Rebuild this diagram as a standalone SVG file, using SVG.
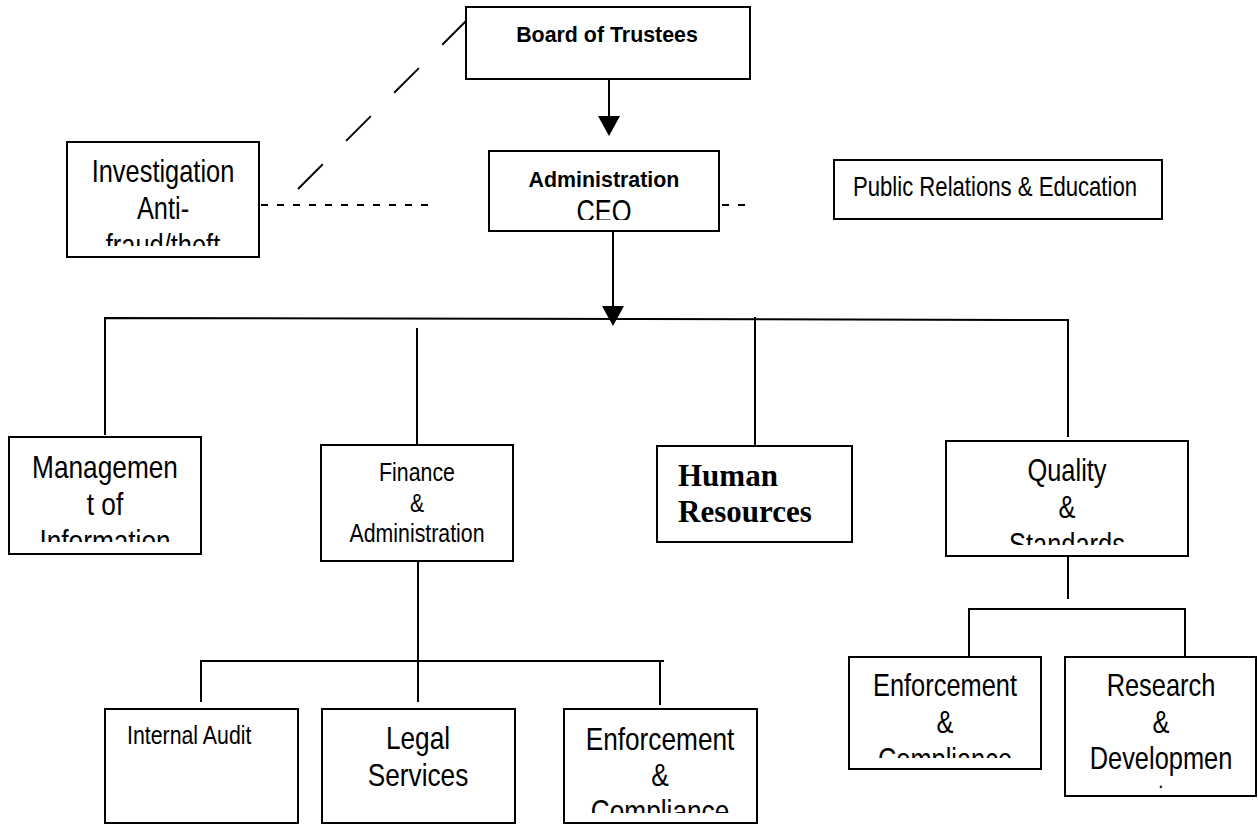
<svg xmlns="http://www.w3.org/2000/svg" width="1258" height="825" viewBox="0 0 1258 825">
<style>
.box{fill:#fff;stroke:#000;stroke-width:2}
.ln{fill:none;stroke:#000;stroke-width:2}
.dash{fill:none;stroke:#000;stroke-width:2;stroke-dasharray:7 9}
.ldash{fill:none;stroke:#000;stroke-width:2;stroke-dasharray:35 33}
.n{font-family:"Liberation Sans",Arial,sans-serif;fill:#000;text-anchor:middle}
.b{font-family:"Liberation Sans",Arial,sans-serif;font-weight:bold;fill:#000;text-anchor:middle}
.t{font-family:"Liberation Serif","Times New Roman",serif;font-weight:bold;fill:#000}
</style>
<defs>
<marker id="arr" viewBox="0 0 20 22" refX="10" refY="11" markerWidth="20" markerHeight="22" markerUnits="userSpaceOnUse" orient="auto">
<path d="M0,0 L20,11 L0,22 z" fill="#000"/>
</marker>
<clipPath id="cInv" clipPathUnits="userSpaceOnUse"><rect x="68" y="143" width="190" height="103"/></clipPath>
<clipPath id="cAdm" clipPathUnits="userSpaceOnUse"><rect x="490" y="152" width="228" height="68"/></clipPath>
<clipPath id="cMan" clipPathUnits="userSpaceOnUse"><rect x="10" y="438" width="190" height="104"/></clipPath>
<clipPath id="cQua" clipPathUnits="userSpaceOnUse"><rect x="947" y="442" width="240" height="103"/></clipPath>
<clipPath id="cEnR" clipPathUnits="userSpaceOnUse"><rect x="850" y="658" width="190" height="100"/></clipPath>
<clipPath id="cRes" clipPathUnits="userSpaceOnUse"><rect x="1066" y="658" width="190" height="130"/></clipPath>
<clipPath id="cEnM" clipPathUnits="userSpaceOnUse"><rect x="565" y="710" width="191" height="103"/></clipPath>
</defs>
<rect width="1258" height="825" fill="#fff"/>

<g id="connectors">
<line class="ln" x1="609" y1="79" x2="609" y2="126" marker-end="url(#arr)"/>
<line class="ln" x1="613" y1="231" x2="613" y2="316" marker-end="url(#arr)"/>
<polyline class="ln" points="105,435 105,318 1068,320 1068,437"/>
<line class="ln" x1="417" y1="328" x2="417" y2="445"/>
<line class="ln" x1="755" y1="317" x2="755" y2="446"/>
<line class="ln" x1="418" y1="561" x2="418" y2="702"/>
<polyline class="ln" points="201,702 201,661 664,661"/>
<line class="ln" x1="660" y1="661" x2="660" y2="705"/>
<line class="ln" x1="1068" y1="556" x2="1068" y2="599"/>
<polyline class="ln" points="969,657 969,609 1185,609 1185,657"/>
<line class="ldash" x1="467" y1="20" x2="298" y2="189"/>
<line class="dash" x1="261" y1="205" x2="430" y2="205"/>
<line class="dash" x1="722" y1="205" x2="746" y2="205"/>
</g>

<g id="board">
<rect class="box" x="466" y="7" width="284" height="72"/>
<text class="b" font-size="23" transform="translate(607,42) scale(0.93,1)">Board of Trustees</text>
</g>

<g id="admin">
<rect class="box" x="489" y="151" width="230" height="80"/>
<g clip-path="url(#cAdm)">
<text class="b" font-size="23" transform="translate(604,187) scale(0.93,1)">Administration</text>
<text class="n" font-size="31" transform="translate(604,222) scale(0.82,1)">CEO</text>
</g>
</g>

<g id="investigation">
<rect class="box" x="67" y="142" width="192" height="115"/>
<g clip-path="url(#cInv)">
<text class="n" font-size="31" transform="translate(163,182) scale(0.82,1)">Investigation</text>
<text class="n" font-size="31" transform="translate(163,219) scale(0.82,1)">Anti-</text>
<text class="n" font-size="31" transform="translate(163,256) scale(0.82,1)">fraud/theft</text>
</g>
</g>

<g id="public-relations">
<rect class="box" x="834" y="160" width="328" height="59"/>
<text class="n" font-size="27" transform="translate(995,196) scale(0.82,1)">Public Relations &amp; Education</text>
</g>

<g id="management">
<rect class="box" x="9" y="437" width="192" height="117"/>
<g clip-path="url(#cMan)">
<text class="n" font-size="32" transform="translate(105,478) scale(0.82,1)">Managemen</text>
<text class="n" font-size="32" transform="translate(105,515) scale(0.82,1)">t of</text>
<text class="n" font-size="32" transform="translate(105,552) scale(0.82,1)">Information</text>
</g>
</g>

<g id="finance">
<rect class="box" x="321" y="445" width="192" height="116"/>
<text class="n" font-size="26" transform="translate(417,481) scale(0.82,1)">Finance</text>
<text class="n" font-size="26" transform="translate(417,512) scale(0.82,1)">&amp;</text>
<text class="n" font-size="26" transform="translate(417,542) scale(0.82,1)">Administration</text>
</g>

<g id="human-resources">
<rect class="box" x="657" y="446" width="195" height="96"/>
<text class="t" font-size="31" x="678" y="486">Human</text>
<text class="t" font-size="31" x="678" y="522">Resources</text>
</g>

<g id="quality">
<rect class="box" x="946" y="441" width="242" height="115"/>
<g clip-path="url(#cQua)">
<text class="n" font-size="31" transform="translate(1067,481) scale(0.82,1)">Quality</text>
<text class="n" font-size="31" transform="translate(1067,518) scale(0.82,1)">&amp;</text>
<text class="n" font-size="31" transform="translate(1067,555) scale(0.82,1)">Standards</text>
</g>
</g>

<g id="internal-audit">
<rect class="box" x="105" y="709" width="193" height="114"/>
<text class="n" font-size="26" style="text-anchor:start" transform="translate(127,744) scale(0.82,1)">Internal Audit</text>
</g>

<g id="legal">
<rect class="box" x="322" y="709" width="193" height="114"/>
<text class="n" font-size="32" transform="translate(418,749) scale(0.82,1)">Legal</text>
<text class="n" font-size="32" transform="translate(418,786) scale(0.82,1)">Services</text>
</g>

<g id="enforcement-finance">
<rect class="box" x="564" y="709" width="193" height="114"/>
<g clip-path="url(#cEnM)">
<text class="n" font-size="32" transform="translate(660,750) scale(0.82,1)">Enforcement</text>
<text class="n" font-size="32" transform="translate(660,786) scale(0.82,1)">&amp;</text>
<text class="n" font-size="32" transform="translate(660,822) scale(0.82,1)">Compliance</text>
</g>
</g>

<g id="enforcement-quality">
<rect class="box" x="849" y="657" width="192" height="112"/>
<g clip-path="url(#cEnR)">
<text class="n" font-size="31" transform="translate(945,696) scale(0.82,1)">Enforcement</text>
<text class="n" font-size="31" transform="translate(945,733) scale(0.82,1)">&amp;</text>
<text class="n" font-size="31" transform="translate(945,770) scale(0.82,1)">Compliance</text>
</g>
</g>

<g id="research">
<rect class="box" x="1065" y="657" width="191" height="139"/>
<g clip-path="url(#cRes)">
<text class="n" font-size="31" transform="translate(1161,696) scale(0.82,1)">Research</text>
<text class="n" font-size="31" transform="translate(1161,733) scale(0.82,1)">&amp;</text>
<text class="n" font-size="31" transform="translate(1161,769) scale(0.82,1)">Developmen</text>
<text class="n" font-size="31" transform="translate(1161,806) scale(0.82,1)">t</text>
</g>
</g>
</svg>
